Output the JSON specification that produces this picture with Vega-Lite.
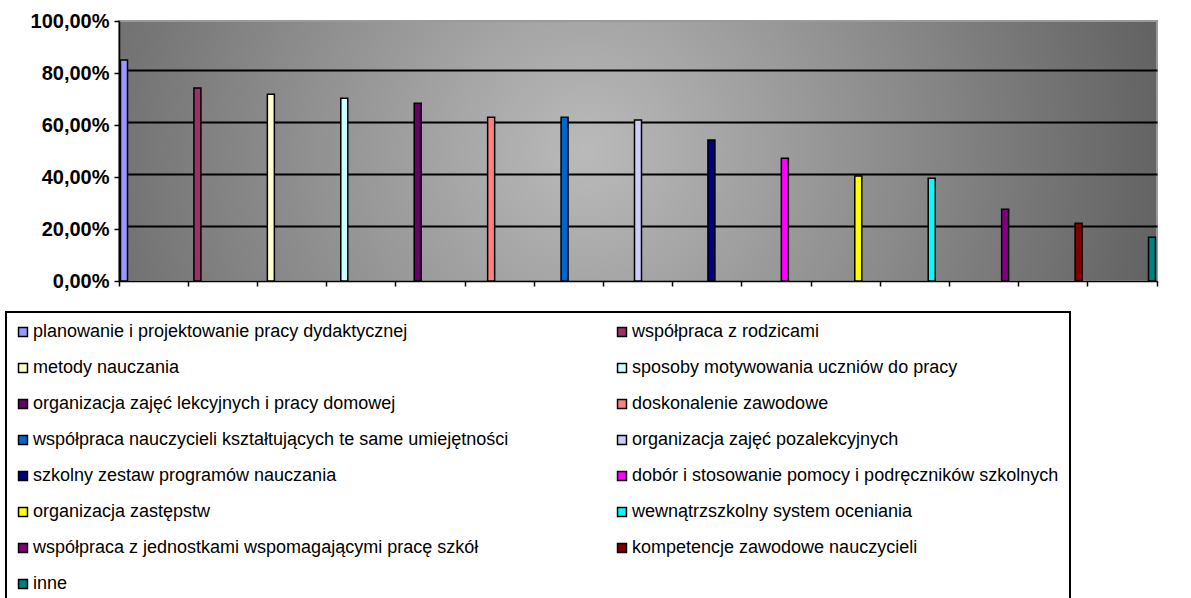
{
  "$schema": "https://vega.github.io/schema/vega-lite/v6.json",
  "width": 1038,
  "height": 260,
  "autosize": {"type": "none"},
  "padding": {"left": 119, "top": 21, "right": 34, "bottom": 317},
  "background": "white",
  "data": {"values": [
    {"cat": "planowanie  i projektowanie pracy dydaktycznej", "value": 85.0},
    {"cat": "współpraca z rodzicami", "value": 74.2},
    {"cat": "metody nauczania", "value": 71.8},
    {"cat": "sposoby motywowania uczniów do pracy", "value": 70.3},
    {"cat": "organizacja zajęć lekcyjnych i pracy domowej", "value": 68.4},
    {"cat": "doskonalenie zawodowe", "value": 63.0},
    {"cat": "współpraca nauczycieli kształtujących te same umiejętności", "value": 63.0},
    {"cat": "organizacja zajęć pozalekcyjnych", "value": 61.9},
    {"cat": "szkolny zestaw programów nauczania", "value": 54.2},
    {"cat": "dobór i stosowanie pomocy i podręczników szkolnych", "value": 47.2},
    {"cat": "organizacja zastępstw", "value": 40.4},
    {"cat": "wewnątrzszkolny system oceniania", "value": 39.5},
    {"cat": "współpraca   z jednostkami wspomagającymi pracę szkół", "value": 27.6},
    {"cat": "kompetencje zawodowe nauczycieli", "value": 22.2},
    {"cat": "inne", "value": 16.8}
  ]},
  "config": {
    "font": "Liberation Sans",
    "legend": {"strokeWidth": 2},
    "view": {
      "stroke": "#9a9a9a",
      "strokeWidth": 2,
      "fill": {
        "gradient": "radial",
        "x1": 0.45, "y1": 0.5, "r1": 0,
        "x2": 0.45, "y2": 0.5, "r2": 0.6,
        "stops": [
          {"offset": 0, "color": "#bababa"},
          {"offset": 1, "color": "#5c5c5c"}
        ]
      }
    }
  },
  "layer": [
    {
      "mark": {"type": "bar", "opacity": 0},
      "encoding": {
        "x": {
          "field": "cat", "type": "nominal", "sort": null,
          "scale": {"type": "band", "paddingInner": 0, "paddingOuter": 0},
          "axis": {
            "title": null, "labels": false, "bandPosition": 1, "tickExtra": true,
            "domainColor": "black", "domainWidth": 1.5,
            "tickColor": "black", "tickWidth": 1.5, "tickSize": 5,
            "grid": false
          }
        },
        "y": {
          "field": "value", "type": "quantitative",
          "scale": {"domain": [-1.15, 98.85], "nice": false, "zero": false},
          "axis": {
            "orient": "right",
            "title": null,
            "values": [20, 40, 60, 80],
            "labels": false,
            "ticks": false,
            "domain": false,
            "grid": true,
            "gridColor": "black",
            "gridWidth": 2
          }
        }
      }
    },
    {
      "mark": {"type": "bar", "width": 7, "stroke": "black", "strokeWidth": 1.5},
      "encoding": {
        "x": {
          "field": "cat", "type": "nominal", "sort": null,
          "scale": {"type": "point", "padding": 0.068},
          "axis": null
        },
        "y": {
          "field": "value", "type": "quantitative",
          "scale": {"domain": [0, 100]},
          "axis": {
            "orient": "left",
            "title": null,
            "values": [0, 20, 40, 60, 80, 100],
            "labelExpr": "replace(format(datum.value, '.2f'), '.', ',') + '%'",
            "labelFont": "Liberation Sans",
            "labelFontSize": 20,
            "labelFontWeight": "bold",
            "labelColor": "black",
            "labelPadding": 5,
            "domainColor": "black", "domainWidth": 1.5,
            "tickColor": "black", "tickWidth": 1.5, "tickSize": 5,
            "grid": false
          }
        },
        "color": {
          "field": "cat", "type": "nominal",
          "scale": {
            "domain": [
              "planowanie  i projektowanie pracy dydaktycznej",
              "metody nauczania",
              "organizacja zajęć lekcyjnych i pracy domowej",
              "współpraca nauczycieli kształtujących te same umiejętności",
              "szkolny zestaw programów nauczania",
              "organizacja zastępstw",
              "współpraca   z jednostkami wspomagającymi pracę szkół",
              "inne",
              "współpraca z rodzicami",
              "sposoby motywowania uczniów do pracy",
              "doskonalenie zawodowe",
              "organizacja zajęć pozalekcyjnych",
              "dobór i stosowanie pomocy i podręczników szkolnych",
              "wewnątrzszkolny system oceniania",
              "kompetencje zawodowe nauczycieli"
            ],
            "range": ["#9999FF", "#FFFFCC", "#660066", "#0066CC", "#000080", "#FFFF00", "#800080", "#008080", "#993366", "#CCFFFF", "#FF8080", "#CCCCFF", "#FF00FF", "#00FFFF", "#800000"]
          },
          "legend": {
            "title": null,
            "orient": "none",
            "legendX": -113,
            "legendY": 291,
            "columns": 2,
            "columnPadding": 105,
            "gridAlign": "all",
            "rowPadding": 18,
            "padding": 11,
            "strokeColor": "black",
            "fillColor": "white",
            "symbolType": "square",
            "symbolSize": 80,
            "symbolOffset": -3,
            "symbolStrokeColor": "black",
            "symbolStrokeWidth": 1.5,
            "symbolOpacity": 1,
            "labelFont": "Liberation Sans",
            "labelFontSize": 18,
            "labelColor": "black",
            "labelOffset": 1,
            "labelLimit": 700
          }
        }
      }
    }
  ],
  "resolve": {"scale": {"x": "independent", "y": "independent"}}
}
